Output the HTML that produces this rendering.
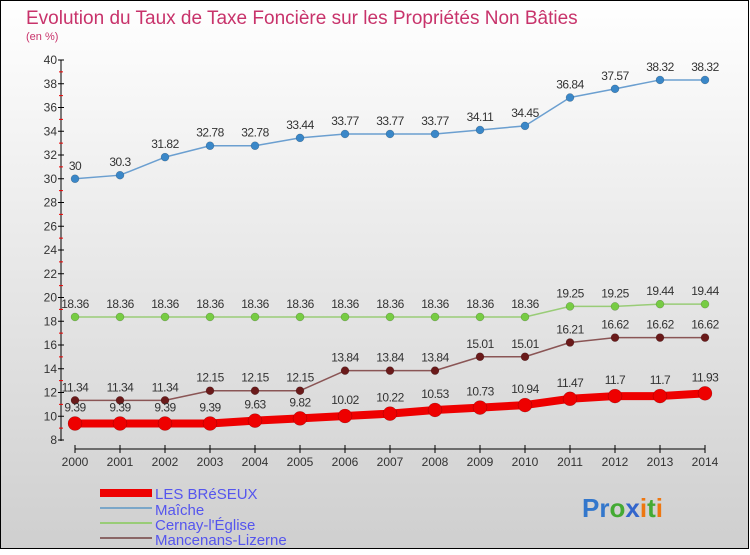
<!DOCTYPE html>
<html><head><meta charset="utf-8"><style>
body{margin:0}
#c{width:750px;height:550px;position:relative;font-family:"Liberation Sans",sans-serif}
</style></head><body>
<div id="c">
<svg id="s" width="750" height="550" xmlns="http://www.w3.org/2000/svg">
<defs><linearGradient id="bg" x1="0" y1="0" x2="0" y2="1"><stop offset="0" stop-color="#ffffff"/><stop offset="1" stop-color="#cfcfcf"/></linearGradient></defs>
<rect x="0.5" y="0.5" width="748" height="548" fill="url(#bg)" stroke="#000"/>
<text x="26" y="24" font-size="19" fill="#c8336b">Evolution du Taux de Taxe Foncière sur les Propriétés Non Bâties</text>
<text x="26" y="40" font-size="11" fill="#c8336b">(en %)</text>
<g id="axes"></g><g id="series"></g>
<g>
<rect x="100" y="489" width="52" height="8" fill="#ee0000"/>
<text x="155" y="499" font-size="15" fill="#5555ee">LES BRéSEUX</text>
<line x1="100" y1="508" x2="152" y2="508" stroke="#7aa6c8" stroke-width="2"/>
<text x="155" y="515" font-size="15" fill="#5555ee">Maîche</text>
<line x1="100" y1="523" x2="152" y2="523" stroke="#99cc77" stroke-width="2"/>
<text x="155" y="530" font-size="15" fill="#5555ee">Cernay-l'Église</text>
<line x1="100" y1="538" x2="152" y2="538" stroke="#8a6666" stroke-width="2"/>
<text x="155" y="545" font-size="15" fill="#5555ee">Mancenans-Lizerne</text>
</g>
<text x="582" y="517" font-size="26" font-weight="bold"><tspan fill="#3377cc">Pr</tspan><tspan fill="#44aa33">o</tspan><tspan fill="#3366cc">x</tspan><tspan fill="#ee7711">i</tspan><tspan fill="#44aa33">t</tspan><tspan fill="#ee7711">i</tspan></text>
</svg></div>
<script>
const years=[2000,2001,2002,2003,2004,2005,2006,2007,2008,2009,2010,2011,2012,2013,2014];
const yTicks=[8,10,12,14,16,18,20,22,24,26,28,30,32,34,36,38,40];
const breseux=[9.39,9.39,9.39,9.39,9.63,9.82,10.02,10.22,10.53,10.73,10.94,11.47,11.7,11.7,11.93];
const maiche=[30,30.3,31.82,32.78,32.78,33.44,33.77,33.77,33.77,34.11,34.45,36.84,37.57,38.32,38.32];
const cernay=[18.36,18.36,18.36,18.36,18.36,18.36,18.36,18.36,18.36,18.36,18.36,19.25,19.25,19.44,19.44];
const mancenans=[11.34,11.34,11.34,12.15,12.15,12.15,13.84,13.84,13.84,15.01,15.01,16.21,16.62,16.62,16.62];
const NS="http://www.w3.org/2000/svg";
function X(i){return 75+i*45;}
function Y(v){return 440-(v-8)*380/32;}
function mk(p,t,a){const e=document.createElementNS(NS,t);for(const k in a)e.setAttribute(k,a[k]);p.appendChild(e);return e;}
const ax=document.getElementById('axes'),sr=document.getElementById('series');
let l=mk(ax,'line',{x1:61,y1:60,x2:61,y2:441,stroke:'#000'});


yTicks.forEach(v=>{
 mk(ax,'line',{x1:58,y1:Y(v),x2:64,y2:Y(v),stroke:'#000'});
 mk(ax,'line',{x1:59,y1:Y(v+1),x2:63,y2:Y(v+1),stroke:v<40?'#e00':'none'});
 const t=mk(ax,'text',{x:57,y:Y(v)+4,'font-size':12,fill:'#333','text-anchor':'end'});t.textContent=v;
 
 
});
l=mk(ax,'line',{x1:75,y1:449,x2:705,y2:449,stroke:'#000'});


years.forEach((y,i)=>{
 mk(ax,'line',{x1:X(i),y1:445,x2:X(i),y2:453,stroke:'#000'});
 const t=mk(ax,'text',{x:X(i),y:466,'font-size':12,fill:'#333','text-anchor':'middle'});t.textContent=y;
 
 
});
function series(d,name,col,dot,w,r,lab){
 const g=mk(sr,'g',{});
 
 
 mk(g,'polyline',{points:d.map((v,i)=>X(i)+','+Y(v)).join(' '),fill:'none',stroke:col,'stroke-width':w,'stroke-linejoin':'round'});
 d.forEach((v,i)=>{
  const c=mk(g,'circle',{cx:X(i),cy:Y(v),r:r,fill:dot,stroke:'rgba(0,0,0,0.3)','stroke-width':0.5});
  
  
  const t=mk(g,'text',{x:X(i),y:Y(v)-lab,'font-size':12,fill:'#333','text-anchor':'middle','letter-spacing':'-0.5'});t.textContent=v;
  
  
 });
}
series(maiche,'maiche','#6b9fd0','#3a87c8',1.5,4,9);
series(cernay,'cernay','#99cc77','#77cc44',1.5,4,9);
series(mancenans,'mancenans','#8a5555','#6a1a1a',1.5,4,9);
series(breseux,'les-breseux','#ee0000','#ee0000',8,7,12);
</script></body></html>
